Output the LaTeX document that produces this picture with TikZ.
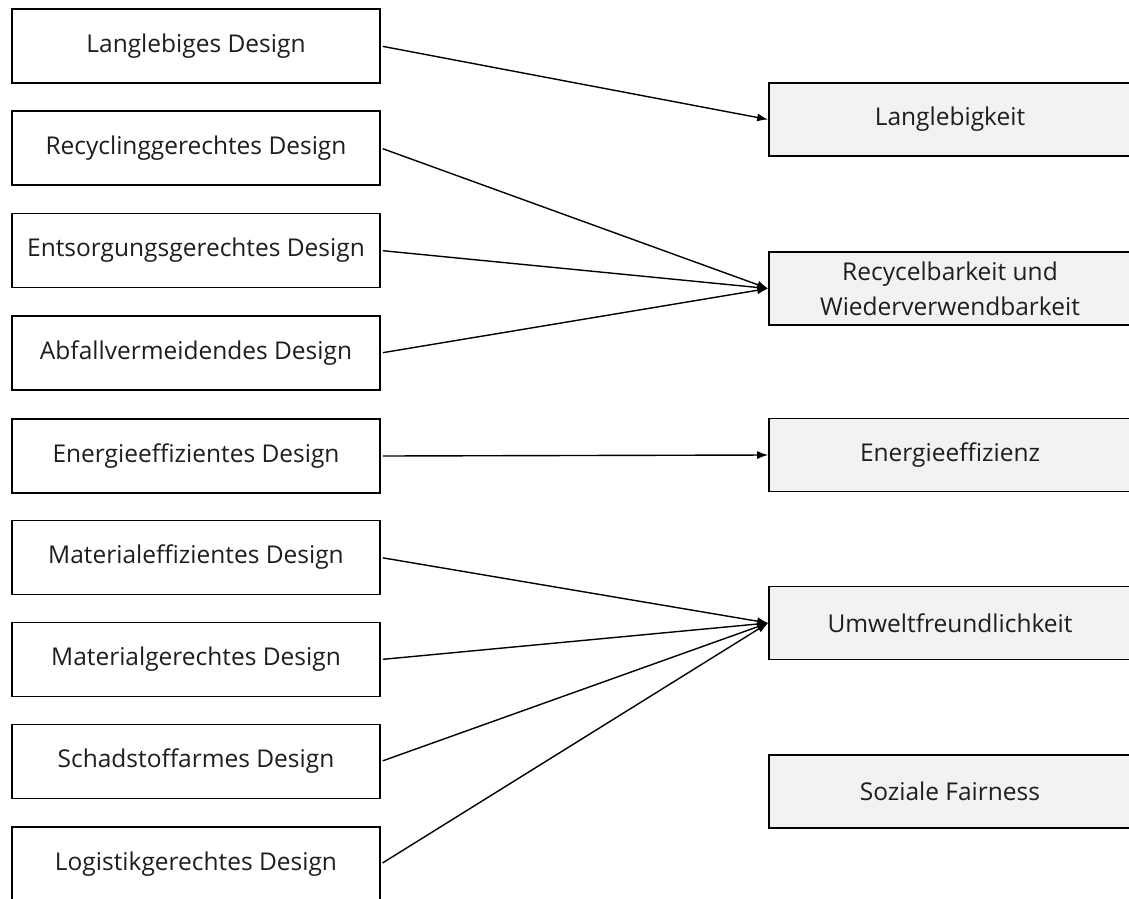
\documentclass[tikz,border=0pt]{standalone}
\usepackage{fontspec}
\setmainfont{Open Sans}
\usetikzlibrary{arrows.meta}
\definecolor{boxfill}{HTML}{F2F2F2}
\definecolor{txt}{HTML}{1E1E1E}
\tikzset{
  leftbox/.style={draw=black, line width=1.7pt, fill=white, minimum width=368pt, minimum height=74pt, inner sep=0pt, text=txt, font=\fontsize{24.5}{34}\selectfont, align=center},
  rightbox/.style={draw=black, line width=1.7pt, fill=boxfill, minimum width=380pt, minimum height=73pt, inner sep=0pt},
  rtext/.style={text=txt, font=\fontsize{24.5}{35}\selectfont, align=center, xshift=-9pt},
  conn/.style={line width=1.4pt, draw=black, -{Latex[length=11pt,width=8pt]}, shorten <=2pt}
}
\begin{document}
\begin{tikzpicture}[x=1pt,y=-1pt]
\clip (0,0) rectangle (1129,898);
\fill[white] (0,0) rectangle (1129,898);
% left boxes
\node[leftbox] (l1) at (196,46) {Langlebiges Design};
\node[leftbox] (l2) at (196,148) {Recyclinggerechtes Design};
\node[leftbox] (l3) at (196,250.5) {Entsorgungsgerechtes Design};
\node[leftbox] (l4) at (196,353) {Abfallvermeidendes Design};
\node[leftbox] (l5) at (196,456) {Energieeffizientes Design};
\node[leftbox] (l6) at (196,557.5) {Materialeffizientes Design};
\node[leftbox] (l7) at (196,659.5) {Materialgerechtes Design};
\node[leftbox] (l8) at (196,761.5) {Schadstoffarmes Design};
\node[leftbox] (l9) at (196,864) {Logistikgerechtes Design};
% right boxes (run off the right edge)
\node[rightbox] (r1) at (959,119.5) {};
\node[rightbox] (r2) at (959,288.5) {};
\node[rightbox] (r3) at (959,455) {};
\node[rightbox] (r4) at (959,623) {};
\node[rightbox] (r5) at (959,791.5) {};
\node[rtext] (t1) at (r1.center) {Langlebigkeit};
\node[rtext] (t2) at (r2.center) {Recycelbarkeit und\\Wiederverwendbarkeit};
\node[rtext] (t3) at (r3.center) {Energieeffizienz};
\node[rtext] (t4) at (r4.center) {Umweltfreundlichkeit};
\node[rtext] (t5) at (r5.center) {Soziale Fairness};
% connectors
\draw[conn] (l1.east) -- (r1.west);
\draw[conn] (l2.east) -- (r2.west);
\draw[conn] (l3.east) -- (r2.west);
\draw[conn] (l4.east) -- (r2.west);
\draw[conn] (l5.east) -- (r3.west);
\draw[conn] (l6.east) -- (r4.west);
\draw[conn] (l7.east) -- (r4.west);
\draw[conn] (l8.east) -- (r4.west);
\draw[conn] (l9.east) -- (r4.west);
\end{tikzpicture}
\end{document}
